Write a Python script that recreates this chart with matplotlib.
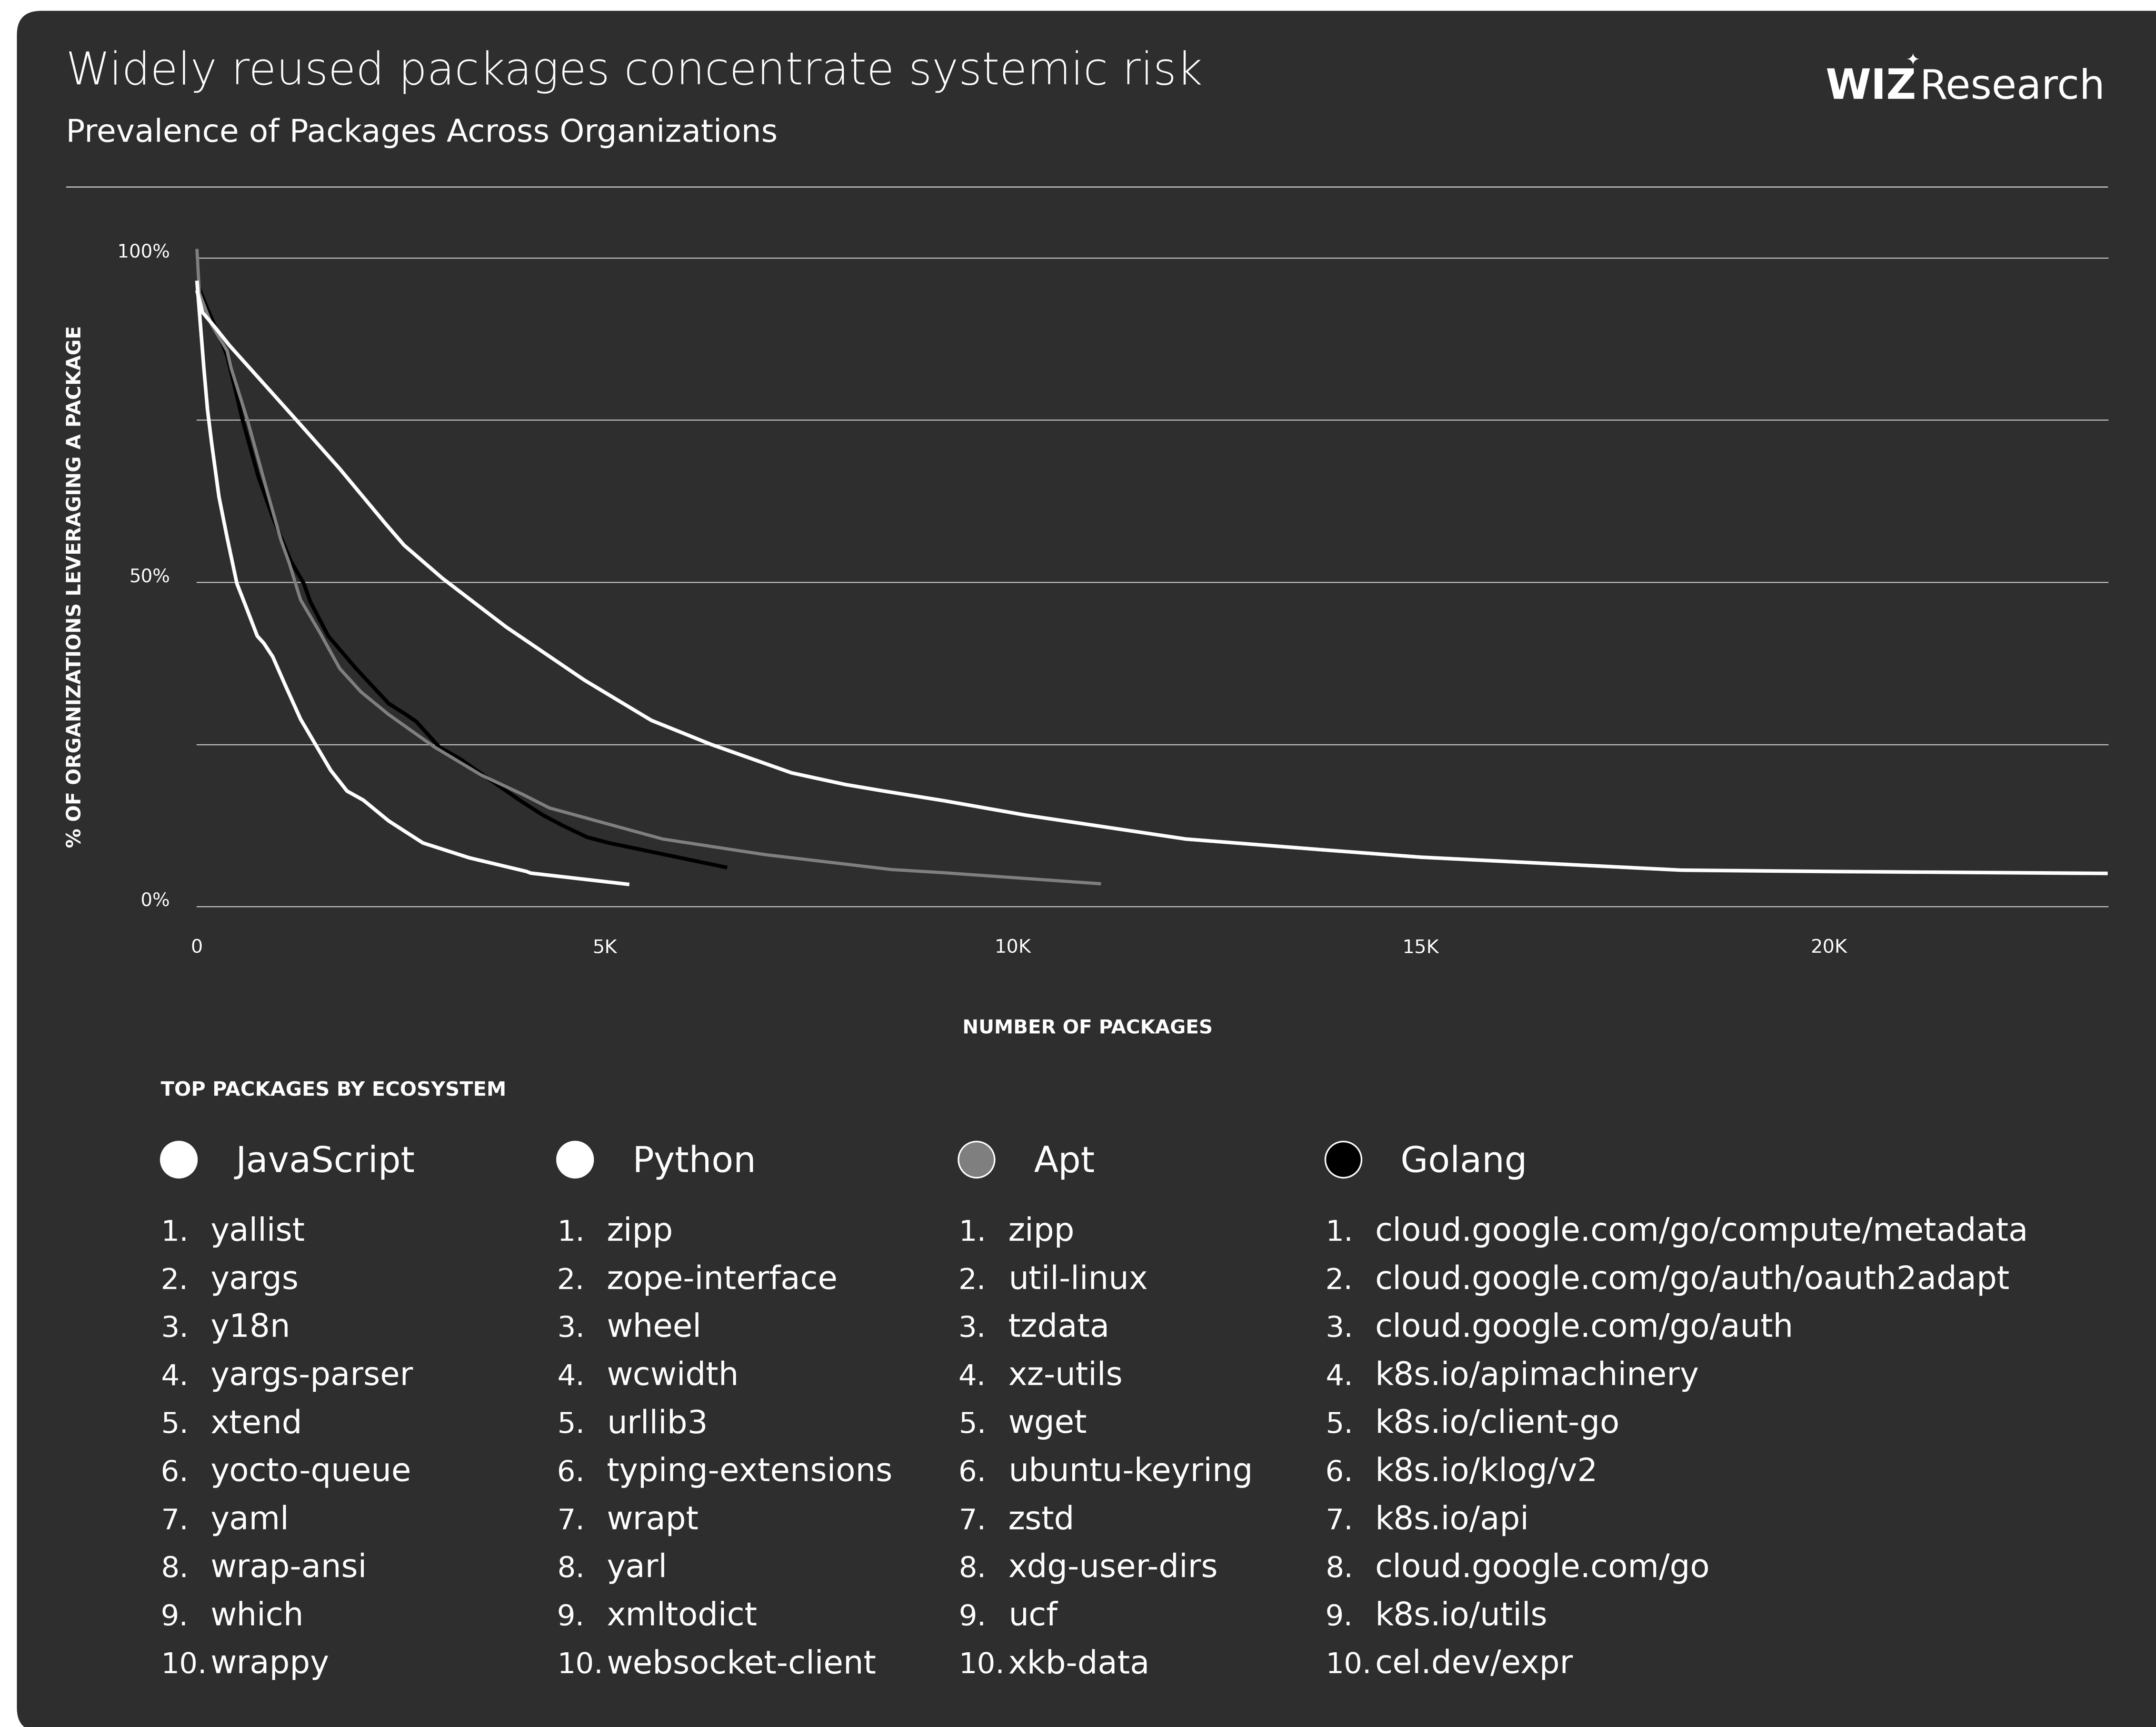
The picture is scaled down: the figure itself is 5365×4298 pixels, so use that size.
import matplotlib
matplotlib.use("Agg")
import matplotlib.pyplot as plt
from matplotlib.patches import FancyBboxPatch, Circle

# ---------------- data ----------------
ecosystems = ["JavaScript", "Python", "Apt", "Golang"]

js_x = [0, 70, 210, 400, 1220, 1750, 2320, 2540, 3010, 3790, 4750, 5570, 6300,
        7290, 7950, 8420, 9160, 10150, 12120, 13840, 15000, 18200, 20000, 23420]
js_y = [95.0, 91.6, 89.5, 86.5, 75.0, 67.5, 58.9, 55.7, 50.6, 43.1, 34.9, 28.7, 25.0,
        20.6, 18.8, 17.8, 16.3, 14.1, 10.4, 8.7, 7.6, 5.6, 5.4, 5.1]

py_x = [0, 86, 130, 180, 270, 370, 490, 590, 740, 820, 930, 1080, 1270, 1640,
        1840, 2040, 2350, 2770, 3340, 4040, 4090, 5300]
py_y = [96.5, 82.9, 76.6, 71.5, 63.2, 56.9, 49.8, 46.6, 41.7, 40.6, 38.5, 34.2, 28.9, 21.0,
        17.8, 16.4, 13.2, 9.8, 7.5, 5.4, 5.15, 3.4]

apt_x = [0, 30, 180, 370, 420, 620, 870, 1030, 1130, 1270, 1500, 1750, 2010, 2350,
         2910, 3480, 3990, 4320, 5710, 6960, 8510, 9160, 11080]
apt_y = [101.4, 94.6, 89.7, 85.7, 83.0, 75.0, 63.6, 56.5, 53.0, 47.3, 42.4, 36.7, 33.1, 29.6,
         24.6, 20.3, 17.3, 15.2, 10.4, 8.0, 5.7, 5.2, 3.5]

go_x = [0, 120, 270, 370, 560, 750, 930, 1150, 1310, 1390, 1610, 1950, 2350, 2550,
        2690, 2970, 3220, 3620, 3990, 4240, 4480, 4780, 5050, 6500]
go_y = [96.2, 92.4, 88.1, 84.9, 75.0, 66.4, 60.0, 53.3, 49.8, 47.0, 41.7, 36.7, 31.3, 29.7,
        28.5, 24.6, 22.8, 19.3, 16.1, 14.1, 12.5, 10.7, 9.8, 6.0]

x_max = 23420
x_ticks = [0, 5000, 10000, 15000, 20000]
x_tick_labels = ["0", "5K", "10K", "15K", "20K"]
y_grid = [0, 25, 50, 75, 100]
y_tick_values = [0, 50, 100]
y_tick_labels = ["0%", "50%", "100%"]

top_js = ["yallist", "yargs", "y18n", "yargs-parser", "xtend", "yocto-queue",
          "yaml", "wrap-ansi", "which", "wrappy"]
top_py = ["zipp", "zope-interface", "wheel", "wcwidth", "urllib3", "typing-extensions",
          "wrapt", "yarl", "xmltodict", "websocket-client"]
top_apt = ["zipp", "util-linux", "tzdata", "xz-utils", "wget", "ubuntu-keyring",
           "zstd", "xdg-user-dirs", "ucf", "xkb-data"]
top_go = ["cloud.google.com/go/compute/metadata", "cloud.google.com/go/auth/oauth2adapt",
          "cloud.google.com/go/auth", "k8s.io/apimachinery", "k8s.io/client-go",
          "k8s.io/klog/v2", "k8s.io/api", "cloud.google.com/go", "k8s.io/utils",
          "cel.dev/expr"]

title = "Widely reused packages concentrate systemic risk"
subtitle = "Prevalence of Packages Across Organizations"
y_title = "% OF ORGANIZATIONS LEVERAGING A PACKAGE"
x_title = "NUMBER OF PACKAGES"
legend_title = "TOP PACKAGES BY ECOSYSTEM"

# ---------------- style ----------------
W, H, DPI = 5365, 4298, 100
BG = "#2e2e2e"
GRID = "#c4c4c4"
FONT = ["DejaVu Sans"]
PT = 72.0 / DPI  # points per pixel

plt.rcParams["font.family"] = FONT

fig = plt.figure(figsize=(W / DPI, H / DPI), dpi=DPI, facecolor="white")

# background / layout layer in pixel coordinates
bg = fig.add_axes([0, 0, 1, 1])
bg.set_xlim(0, W)
bg.set_ylim(H, 0)
bg.axis("off")
bg.add_patch(FancyBboxPatch((42, 27), W + 200, 4310 - 27,
                            boxstyle="round,pad=0,rounding_size=60",
                            fc=BG, ec="none", zorder=0))

# title block
bg.text(164, 210, title, color="white", fontsize=80.5, fontweight="light",
        va="baseline", ha="left")
bg.text(164, 353, subtitle, color="white", fontsize=56.5, fontweight="normal",
        va="baseline", ha="left")

# logo
bg.text(4543, 246, "WIZ", color="white", fontsize=74, fontweight="bold",
        va="baseline", ha="left")
bg.text(4776, 246, "Research", color="white", fontsize=72.5, fontweight="normal",
        va="baseline", ha="left")
bg.text(4760, 150, "\u2726", color="white", fontsize=30, va="center", ha="center")

# separator
bg.plot([164, 5245], [465, 465], color=GRID, lw=3 * PT, solid_capstyle="butt")

# y axis title
bg.text(188, 1460, y_title, color="white", fontsize=35, fontweight="bold",
        rotation=90, ha="center", va="center")

# x axis title
bg.text(2706, 2559, x_title, color="white", fontsize=34.5, fontweight="bold",
        ha="center", va="center")

# ---------------- chart ----------------
ax_l, ax_r, ax_t, ax_b = 490, 5245, 642, 2256
ax = fig.add_axes([ax_l / W, 1 - ax_b / H, (ax_r - ax_l) / W, (ax_b - ax_t) / H])
ax.set_facecolor("none")
ax.set_xlim(0, x_max)
ax.set_ylim(0, 100)
for s in ax.spines.values():
    s.set_visible(False)
for g in y_grid:
    ax.axhline(g, color=GRID, lw=2.6 * PT, zorder=1, clip_on=False)

series = [
    (go_x, go_y, "#000000", 9.5),
    (apt_x, apt_y, "#7f7f7f", 8.0),
    (py_x, py_y, "#ffffff", 9.0),
    (js_x, js_y, "#ffffff", 9.0),
]
for xs, ys, c, lw in series:
    ax.plot(xs, ys, color=c, lw=lw * PT, clip_on=False, zorder=3,
            solid_joinstyle="round", solid_capstyle="butt")

ax.set_yticks([])
ax.set_xticks(x_ticks, x_tick_labels)
ax.tick_params(axis="x", length=0, pad=80 * PT, labelsize=34, labelcolor="white")
for v, lab in zip(y_tick_values, y_tick_labels):
    ax.text(-67 / (ax_r - ax_l), v, lab, transform=ax.get_yaxis_transform(),
            ha="right", va="baseline", color="white", fontsize=33)

# ---------------- legend / lists ----------------
bg.text(400, 2713, legend_title, color="white", fontsize=35.5, fontweight="bold",
        ha="left", va="center")

col_num_x = [400, 1386, 2385, 3298]
marker_fc = ["#ffffff", "#ffffff", "#7f7f7f", "#000000"]
lists = [top_js, top_py, top_apt, top_go]
for i, (name, fc, items) in enumerate(zip(ecosystems, marker_fc, lists)):
    x0 = col_num_x[i]
    bg.add_patch(Circle((x0 + 45, 2886), 45, fc=fc, ec="white", lw=4 * PT, zorder=2))
    bg.text(x0 + 187, 2917, name, color="white", fontsize=64, ha="left", va="baseline")
    for k, item in enumerate(items):
        yb = 3088 + k * 119.6
        bg.text(x0, yb, f"{k + 1}.", color="white", fontsize=52, ha="left", va="baseline")
        bg.text(x0 + 124, yb, item, color="white", fontsize=57.5, ha="left", va="baseline")

fig.savefig("out.png", dpi=DPI, facecolor="white")
